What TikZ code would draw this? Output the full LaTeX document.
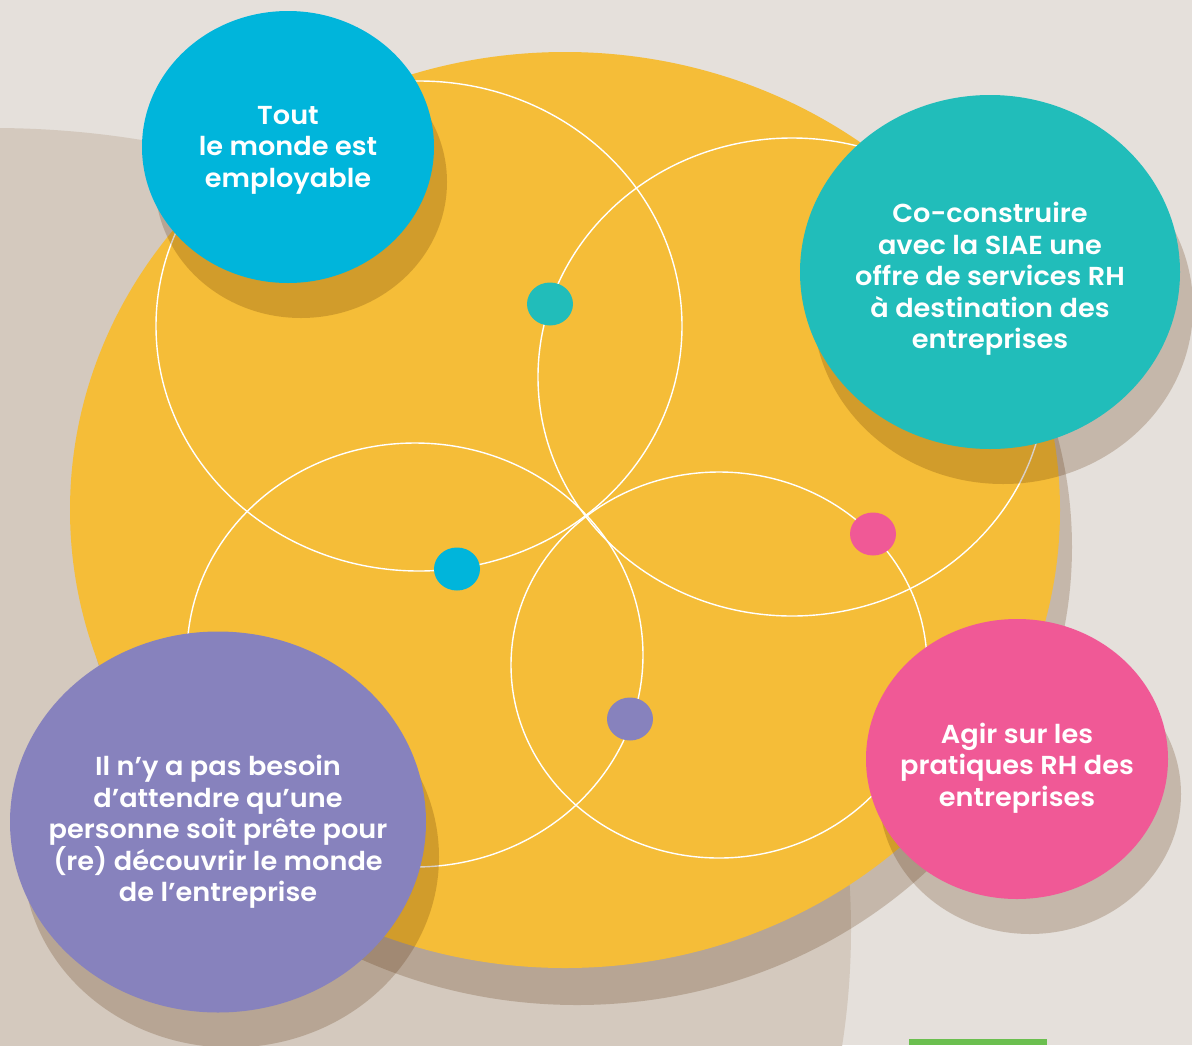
\documentclass[tikz,border=0pt]{standalone}
\usepackage{fontspec}
\setmainfont{Poppins}[BoldFont = {Poppins SemiBold}, FakeStretch = 1.045]
\usepackage{tikz}
\usetikzlibrary{shapes.geometric}
\usetikzlibrary{shadows}
\definecolor{mback}{rgb}{0.9, 0.88, 0.86}
\definecolor{mbeige}{rgb}{0.83, 0.79, 0.745}
\definecolor{myellow}{rgb}{0.96, 0.74, 0.22}
\definecolor{mshade}{rgb}{0.33, 0.16, 0}
\definecolor{mblue}{rgb}{0, 0.71, 0.86}
\definecolor{mteal}{rgb}{0.13, 0.74, 0.73}
\definecolor{mpurple}{rgb}{0.53, 0.51, 0.74}
\definecolor{mpink}{rgb}{0.94, 0.35, 0.59}
\definecolor{mgreen}{rgb}{0.42, 0.75, 0.31}
\tikzset{circ/.style = {fill, ellipse, inner sep = 0, minimum width = 46, minimum height = 43}}
\tikzset{ring/.style = {white, line width = 1.4}}
\tikzset{bubble/.style = {ellipse, inner sep = 0, drop shadow = {shadow xshift = 13pt, shadow yshift = -35pt, fill = mshade, opacity = 0.22}}}
\tikzset{msg/.style = {text = white, align = center, inner sep = 0, font = \bfseries\fontsize{26}{31.4}\selectfont}}

\begin{document}
\begin{tikzpicture}[x = 1pt, y = -1pt]
    \useasboundingbox (0, 0) rectangle (1192, 1045);
    \clip (0, 0) rectangle (1192, 1045);
    \fill [mback] (0, 0) rectangle (1192, 1045);
    \fill [mbeige] (-7, 930) ellipse (858 and 802);

    \fill [mshade, opacity = 0.22] (577, 547) ellipse (495 and 458);
    \fill [myellow] (565, 510) ellipse (495 and 458);

    \draw [ring] (419, 326) ellipse (263 and 245);
    \draw [ring] (792, 377) ellipse (254 and 239);
    \draw [ring] (415, 655) ellipse (228 and 212);
    \draw [ring] (719, 665) ellipse (208 and 193);

    \node [circ, mteal] (dotteal) at (550, 304) {};
    \node [circ, mblue] (dotblue) at (457, 569) {};
    \node [circ, mpink] (dotpink) at (873, 534) {};
    \node [circ, mpurple] (dotpurple) at (630, 719) {};

    \node [bubble, fill = mblue, minimum width = 292, minimum height = 272] (tout) at (288, 147) {};
    \node [bubble, fill = mteal, minimum width = 380, minimum height = 354] (coconstruire) at (990, 272) {};
    \node [bubble, fill = mpurple, minimum width = 416, minimum height = 381] (besoin) at (218, 822) {};
    \node [bubble, fill = mpink, minimum width = 302, minimum height = 280] (agir) at (1017, 759) {};

    \node [msg] (touttext) at ([yshift = -3pt] tout) {Tout\\le monde est\\employable};
    \node [msg] (coconstruiretext) at ([yshift = -7pt] coconstruire) {Co-construire\\avec la SIAE une\\offre de services RH\\à destination des\\entreprises};
    \node [msg] (besointext) at ([yshift = -10pt] besoin) {Il n’y a pas besoin\\d’attendre qu’une\\personne soit prête pour\\(re) découvrir le monde\\de l’entreprise};
    \node [msg] (agirtext) at ([yshift = -9pt] agir) {Agir sur les\\pratiques RH des\\entreprises};

    \fill [mgreen] (909, 1039) rectangle (1047, 1045);
\end{tikzpicture}
\end{document}
